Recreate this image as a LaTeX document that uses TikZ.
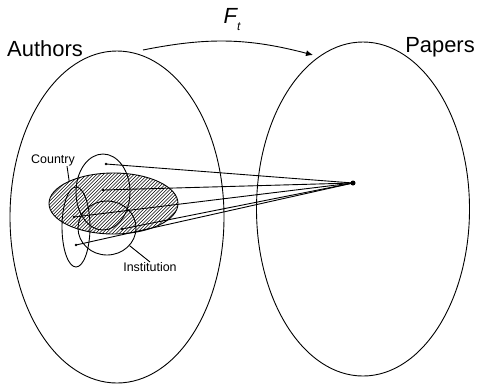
\documentclass[tikz,border=0pt]{standalone}
\usepackage{fontspec}
\setmainfont{Liberation Sans}
\usetikzlibrary{shapes.geometric, arrows.meta}

\begin{document}
\begin{tikzpicture}[x=1bp, y=-1bp, >={Latex[length=7bp,width=6bp]}, line width=0.9pt,
  set/.style={draw, ellipse, inner sep=0pt},
  member/.style={circle, fill, inner sep=0pt, minimum size=2.6bp},
  biglabel/.style={font=\fontsize{22}{26}\selectfont, inner sep=0pt, anchor=base},
  smalllabel/.style={font=\fontsize{12.5}{15}\selectfont, inner sep=0pt}]
  \useasboundingbox (0,0) rectangle (478,385);
  % the two sets and the map between them
  \node[set, minimum width=214bp, minimum height=332bp] (authors) at (117,217) {};
  \node[set, minimum width=213bp, minimum height=334bp] (papers) at (363,209) {};
  \node[biglabel] (authorslabel) at (45,56) {Authors};
  \node[biglabel] (paperslabel) at (440,52) {Papers};
  \coordinate (fstart) at (143,50);
  \coordinate (fend) at (313,55);
  \draw[->] (fstart) to[bend left=13] (fend);
  \node[font=\fontsize{22}{26}\selectfont\itshape, inner sep=0pt] (flabel) at (232,20)
    {F\raisebox{-7bp}{\fontsize{12}{14}\selectfont t}};
  % country (hatched) and institutions
  \begin{scope}
    \clip (113.5,203.5) ellipse (64.5 and 30.5);
    \foreach \c in {244,247.4,...,394}
      \draw[line width=0.55pt] (\c-170,170) -- (\c-240,240);
  \end{scope}
  \node[set, minimum width=129bp, minimum height=61bp] (country) at (113.5,203.5) {};
  \node[set, minimum width=54bp, minimum height=76bp] (instA) at (103,192) {};
  \node[set, minimum width=58bp, minimum height=54bp] (instB) at (107,228) {};
  \node[set, minimum width=28bp, minimum height=80bp] (instC) at (76,227) {};
  \node[smalllabel] (countrylabel) at (53,160) {Country};
  \node[smalllabel] (instlabel) at (150,267) {Institution};
  \draw ([xshift=14bp]countrylabel.south) -- (country.153);
  \draw (instB.-38) -- (instlabel.north);
  % authors of one paper
  \node[member] (a1) at (106,164) {};
  \node[member] (a2) at (103,190) {};
  \node[member] (a3) at (74,217) {};
  \node[member] (a4) at (122,229) {};
  \node[member] (a5) at (76,245) {};
  \node[member, minimum size=5bp] (paper) at (353,183) {};
  \foreach \a in {a1,a2,a3,a4,a5}
    \draw (\a.center) -- (paper.center);
\end{tikzpicture}
\end{document}
